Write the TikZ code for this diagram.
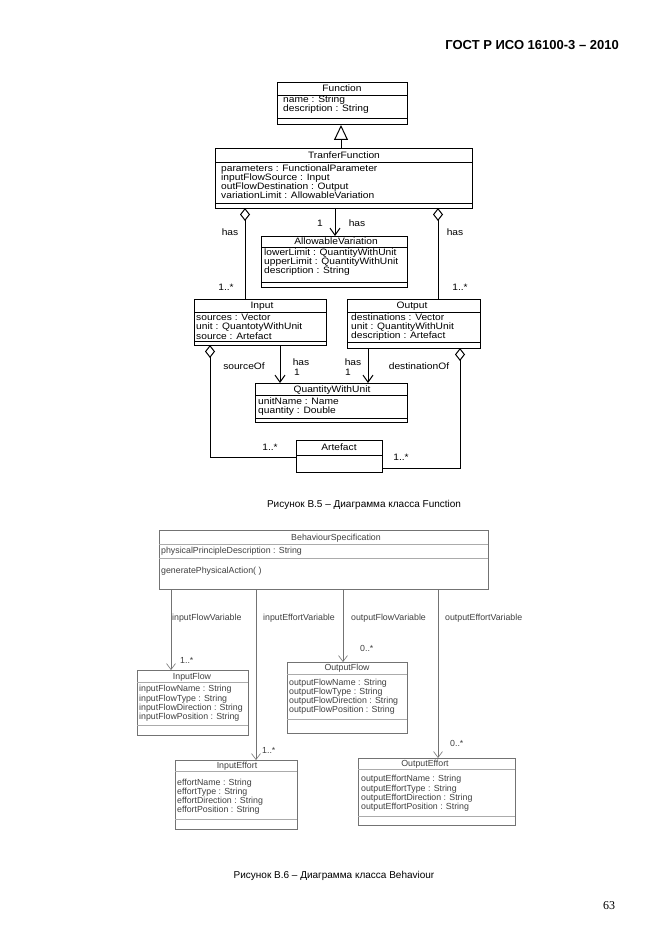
\documentclass[tikz,border=0pt]{standalone}
\usepackage{fontspec}
\setmainfont{Liberation Sans}
\newfontfamily\umlA[FakeStretch=1.1]{Liberation Sans}
\newfontfamily\umlB{Liberation Sans}
\newfontfamily\pgnum{Liberation Serif}
\usetikzlibrary{arrows.meta}
\definecolor{bline}{gray}{0.45}
\definecolor{btext}{gray}{0.25}
\newcommand\mkbox[6]{\node[#2, minimum width={#5-#3}, minimum height={#6-#4}] (#1) at ({(#3+#5)/2},{(#4+#6)/2}) {};}
\newcommand\hsep[3]{\draw[#2] (#1.west |- 0,#3) -- (#1.east |- 0,#3);}
\begin{document}
\begin{tikzpicture}[x=1pt,y=-1pt,
  tb/.style={draw=black, line width=1pt, inner sep=0pt, outer sep=0pt},
  tsep/.style={draw=black, line width=0.7pt},
  ttl/.style={font=\umlA\fontsize{9.3}{10}\selectfont, anchor=mid, inner sep=0pt},
  tat/.style={font=\umlA\fontsize{9.3}{10}\selectfont, anchor=mid west, inner sep=0pt},
  inh/.style={draw=black, line width=1pt, -{Triangle[open, length=15pt, width=14pt]}},
  agg/.style={draw=black, line width=1pt, {Diamond[open, length=13pt, width=10pt]}-},
  nav/.style={draw=black, line width=1pt, -{Straight Barb[length=7pt, width=10pt]}},
  bb/.style={draw=bline, line width=0.6pt, inner sep=0pt, outer sep=0pt},
  bsep/.style={draw=bline!60, line width=0.5pt},
  bttl/.style={font=\umlB\fontsize{8.8}{9}\selectfont, text=btext, anchor=mid, inner sep=0pt},
  bat/.style={font=\umlB\fontsize{8.8}{9}\selectfont, text=btext, anchor=mid west, inner sep=0pt},
  bnav/.style={draw=bline, line width=0.6pt, -{Straight Barb[length=6pt, width=9pt]}},
  captxt/.style={font=\fontsize{10}{12}\selectfont, anchor=mid, inner sep=0pt},
]
\useasboundingbox (0,0) rectangle (661,936);
\fill[white] (0,0) rectangle (661,936);

% header
\node[font=\bfseries\fontsize{13}{15}\selectfont, anchor=mid east, inner sep=0pt] (hdr) at (619,47) {ГОСТ Р ИСО 16100-3 – 2010};

% ---------- Figure B.5 ----------
\mkbox{fn}{tb}{277}{83}{407}{125}
\node[ttl] (fnT) at (342,89) {Function};
\hsep{fn}{tsep}{95}
\node[tat] (fnA1) at (283,100) {name : String};
\node[tat] (fnA2) at (283,109) {description : String};
\hsep{fn}{tsep}{118}

\mkbox{tf}{tb}{215}{149}{472}{208}
\node[ttl] (tfT) at (344,156) {TranferFunction};
\hsep{tf}{tsep}{162}
\node[tat] (tfA1) at (221,169) {parameters : FunctionalParameter};
\node[tat] (tfA2) at (221,178) {inputFlowSource : Input};
\node[tat] (tfA3) at (221,187) {outFlowDestination : Output};
\node[tat] (tfA4) at (221,196) {variationLimit : AllowableVariation};
\hsep{tf}{tsep}{203}

\draw[inh] (tf.north -| 341,0) -- (fn.south -| 341,0);

\mkbox{av}{tb}{261}{236}{407}{287}
\node[ttl] (avT) at (336,242) {AllowableVariation};
\hsep{av}{tsep}{247}
\node[tat] (avA1) at (264,253) {lowerLimit : QuantityWithUnit};
\node[tat] (avA2) at (264,262) {upperLimit : QuantityWithUnit};
\node[tat] (avA3) at (264,271) {description : String};
\hsep{av}{tsep}{282}

\draw[nav] (tf.south -| 335,0) -- (av.north -| 335,0);
\node[ttl] (l1) at (320,224) {1};
\node[ttl] (lhas1) at (357,224) {has};

\mkbox{inp}{tb}{194}{299}{326}{345}
\node[ttl] (inpT) at (262,306) {Input};
\hsep{inp}{tsep}{312}
\node[tat] (inpA1) at (196,318) {sources : Vector};
\node[tat] (inpA2) at (196,327) {unit : QuantotyWithUnit};
\node[tat] (inpA3) at (196,337) {source : Artefact};
\hsep{inp}{tsep}{341}

\mkbox{out}{tb}{347}{299}{480}{348}
\node[ttl] (outT) at (412,306) {Output};
\hsep{out}{tsep}{312}
\node[tat] (outA1) at (351,318) {destinations : Vector};
\node[tat] (outA2) at (351,327) {unit : QuantityWithUnit};
\node[tat] (outA3) at (351,336) {description : Artefact};
\hsep{out}{tsep}{342}

\draw[agg] (tf.south -| 245,0) -- (inp.north -| 245,0);
\draw[agg] (tf.south -| 438,0) -- (out.north -| 438,0);
\node[ttl] (lhas2) at (230,233) {has};
\node[ttl] (lhas3) at (455,233) {has};
\node[ttl] (lm1) at (226,288) {1..*};
\node[ttl] (lm2) at (460,288) {1..*};

\mkbox{qwu}{tb}{255}{383}{407}{422}
\node[ttl] (qwuT) at (332,390) {QuantityWithUnit};
\hsep{qwu}{tsep}{395}
\node[tat] (qwuA1) at (258,402) {unitName : Name};
\node[tat] (qwuA2) at (258,411) {quantity : Double};
\hsep{qwu}{tsep}{418}

\draw[nav] (inp.south -| 280,0) -- (qwu.north -| 280,0);
\draw[nav] (out.south -| 368,0) -- (qwu.north -| 368,0);
\node[ttl] (lsrc) at (244,367) {sourceOf};
\node[ttl] (lhas4) at (301,363) {has};
\node[ttl] (l2) at (297,373) {1};
\node[ttl] (lhas5) at (353,363) {has};
\node[ttl] (l3) at (348,373) {1};
\node[ttl] (ldst) at (419,367) {destinationOf};

\mkbox{art}{tb}{296}{440}{382}{472}
\node[ttl] (artT) at (339,448) {Artefact};
\hsep{art}{tsep}{455}

\draw[agg] (inp.south -| 210,0) |- (art.west |- 0,457);
\draw[agg] (out.south -| 460,0) |- (art.east |- 0,468);
\node[ttl] (lm3) at (270,448) {1..*};
\node[ttl] (lm4) at (401,458) {1..*};

\node[captxt] (cap1) at (364,505) {Рисунок В.5 – Диаграмма класса Function};

% ---------- Figure B.6 ----------
\mkbox{bs}{bb}{159}{530}{488}{589}
\node[bttl] (bsT) at (336,538) {BehaviourSpecification};
\hsep{bs}{bsep}{544}
\node[bat] (bsA1) at (161,551) {physicalPrincipleDescription : String};
\hsep{bs}{bsep}{558}
\node[bat] (bsM1) at (161,571) {generatePhysicalAction( )};

\mkbox{if}{bb}{137}{670}{248}{735}
\node[bttl] (ifT) at (192,677) {InputFlow};
\hsep{if}{bsep}{682}
\node[bat] (ifA1) at (139,689) {inputFlowName : String};
\node[bat] (ifA2) at (139,698.5) {inputFlowType : String};
\node[bat] (ifA3) at (139,708) {inputFlowDirection : String};
\node[bat] (ifA4) at (139,717) {inputFlowPosition : String};
\hsep{if}{bsep}{725}

\mkbox{ie}{bb}{175}{760}{297}{829}
\node[bttl] (ieT) at (237,766) {InputEffort};
\hsep{ie}{bsep}{771}
\node[bat] (ieA1) at (177,783) {effortName : String};
\node[bat] (ieA2) at (177,792) {effortType : String};
\node[bat] (ieA3) at (177,801) {effortDirection : String};
\node[bat] (ieA4) at (177,810) {effortPosition : String};
\hsep{ie}{bsep}{819}

\mkbox{of}{bb}{287}{662}{407}{733}
\node[bttl] (ofT) at (347,668) {OutputFlow};
\hsep{of}{bsep}{674}
\node[bat] (ofA1) at (289,683) {outputFlowName : String};
\node[bat] (ofA2) at (289,692) {outputFlowType : String};
\node[bat] (ofA3) at (289,701) {outputFlowDirection : String};
\node[bat] (ofA4) at (289,710) {outputFlowPosition : String};
\hsep{of}{bsep}{719}

\mkbox{oe}{bb}{358}{758}{515}{825}
\node[bttl] (oeT) at (425,764) {OutputEffort};
\hsep{oe}{bsep}{769}
\node[bat] (oeA1) at (361,779) {outputEffortName : String};
\node[bat] (oeA2) at (361,788.5) {outputEffortType : String};
\node[bat] (oeA3) at (361,798) {outputEffortDirection : String};
\node[bat] (oeA4) at (361,807) {outputEffortPosition : String};
\hsep{oe}{bsep}{816}

\draw[bnav] (bs.south -| 171,0) -- (if.north -| 171,0);
\draw[bnav] (bs.south -| 256,0) -- (ie.north -| 256,0);
\draw[bnav] (bs.south -| 343,0) -- (of.north -| 343,0);
\draw[bnav] (bs.south -| 438,0) -- (oe.north -| 438,0);
\node[bat] (v1) at (172,618) {inputFlowVariable};
\node[bat] (v2) at (263,618) {inputEffortVariable};
\node[bat] (v3) at (351,618) {outputFlowVariable};
\node[bat] (v4) at (445,618) {outputEffortVariable};
\node[bat] (m1) at (180,661) {1..*};
\node[bat] (m2) at (262,751) {1..*};
\node[bat] (m3) at (360,649) {0..*};
\node[bat] (m4) at (450,744) {0..*};

\node[captxt] (cap2) at (334,876) {Рисунок В.6 – Диаграмма класса Behaviour};

\node[font=\pgnum\fontsize{12}{14}\selectfont, anchor=mid, inner sep=0pt] (pg) at (609,907) {63};
\end{tikzpicture}
\end{document}
